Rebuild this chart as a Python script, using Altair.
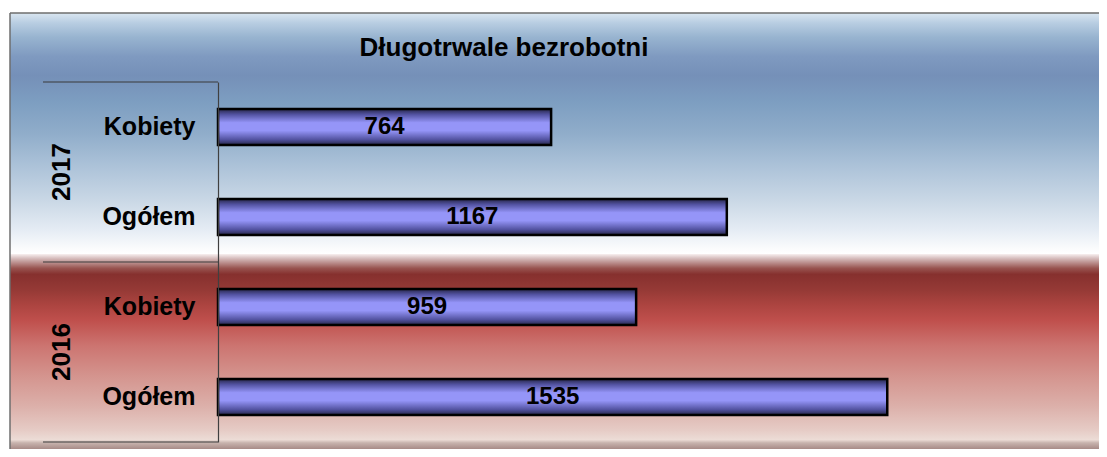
import altair as alt
import pandas as pd

# ---- data ----
years = ["2017", "2017", "2016", "2016"]
categories = ["Kobiety", "Ogółem", "Kobiety", "Ogółem"]
values = [764, 1167, 959, 1535]
title_text = "Długotrwale bezrobotni"
year_labels = ["2017", "2016"]

keys = [f"{y}|{c}" for y, c in zip(years, categories)]
df = pd.DataFrame({"key": keys, "year": years, "cat": categories, "value": values})
df_years = pd.DataFrame({"year": year_labels})
df_one = pd.DataFrame({"t": [title_text]})

FONT = "Liberation Sans"
W, H = 872, 360
PL, PT, PR, PB = 210, 74, 9, 7

# frame extents relative to plot origin
FX0, FX1 = -208, W + 20
FY0, FMID, FY1 = -69, 172, H + 15

blue_grad = {
    "gradient": "linear", "x1": 0, "y1": 0, "x2": 0, "y2": 1,
    "stops": [
        {"offset": 0.0, "color": "#dae6f1"},
        {"offset": 0.04, "color": "#b9cee2"},
        {"offset": 0.10, "color": "#98b4d0"},
        {"offset": 0.18, "color": "#7f9ac0"},
        {"offset": 0.26, "color": "#7590b8"},
        {"offset": 0.37, "color": "#7d9ec1"},
        {"offset": 0.50, "color": "#90adca"},
        {"offset": 0.62, "color": "#a9c0d7"},
        {"offset": 0.78, "color": "#cad8e6"},
        {"offset": 0.90, "color": "#e5ecf4"},
        {"offset": 0.98, "color": "#fbfcfd"},
        {"offset": 1.0, "color": "#ffffff"},
    ],
}
red_grad = {
    "gradient": "linear", "x1": 0, "y1": 0, "x2": 0, "y2": 1,
    "stops": [
        {"offset": 0.0, "color": "#f8f0f0"},
        {"offset": 0.02, "color": "#d8c0c0"},
        {"offset": 0.045, "color": "#b88a88"},
        {"offset": 0.07, "color": "#985450"},
        {"offset": 0.10, "color": "#86302e"},
        {"offset": 0.18, "color": "#963a36"},
        {"offset": 0.25, "color": "#ac4440"},
        {"offset": 0.33, "color": "#c0504d"},
        {"offset": 0.45, "color": "#cc7470"},
        {"offset": 0.60, "color": "#d4948e"},
        {"offset": 0.75, "color": "#dcb0aa"},
        {"offset": 0.87, "color": "#e6ccc6"},
        {"offset": 0.915, "color": "#ecdcd6"},
        {"offset": 0.93, "color": "#c8b4ae"},
        {"offset": 0.96, "color": "#a88c88"},
        {"offset": 1.0, "color": "#988080"},
    ],
}
bar_grad = {
    "gradient": "linear", "x1": 0, "y1": 0, "x2": 0, "y2": 1,
    "stops": [
        {"offset": 0.0, "color": "#262648"},
        {"offset": 0.15, "color": "#5252a0"},
        {"offset": 0.38, "color": "#9595f8"},
        {"offset": 0.6, "color": "#9595f8"},
        {"offset": 0.85, "color": "#5252a0"},
        {"offset": 1.0, "color": "#262648"},
    ],
}

one = alt.Chart(df_one)

bg_blue = one.mark_rect(fill=blue_grad, strokeWidth=0).encode(
    x=alt.value(FX0), x2=alt.value(FX1), y=alt.value(FY0), y2=alt.value(FMID))
bg_red = one.mark_rect(fill=red_grad, strokeWidth=0).encode(
    x=alt.value(FX0), x2=alt.value(FX1), y=alt.value(FMID), y2=alt.value(FY1))
frame_top = one.mark_rule(color="#6e6e6e", strokeWidth=1.5).encode(
    x=alt.value(FX0), x2=alt.value(FX1), y=alt.value(FY0))
frame_left = one.mark_rule(color="#6e6e6e", strokeWidth=1.5).encode(
    x=alt.value(FX0), y=alt.value(FY0), y2=alt.value(FY1))

title = one.mark_text(font=FONT, fontSize=26, fontWeight="bold", color="black",
                      align="center", baseline="middle").encode(
    x=alt.value(286), y=alt.value(-34), text="t:N")

year_scale = alt.Scale(domain=year_labels, paddingInner=0, paddingOuter=0)
yrs = alt.Chart(df_years)
group_rules_top = yrs.mark_rule(color="#3a3a3a", strokeWidth=1.2).encode(
    y=alt.Y("year:N", scale=year_scale, axis=None, bandPosition=0),
    x=alt.value(-175), x2=alt.value(0))
group_rule_bottom = yrs.transform_filter(alt.datum.year == year_labels[-1]).mark_rule(
    color="#3a3a3a", strokeWidth=1.2).encode(
    y=alt.Y("year:N", scale=year_scale, axis=None, bandPosition=1),
    x=alt.value(-175), x2=alt.value(0))
year_text = yrs.mark_text(font=FONT, fontSize=26, fontWeight="bold", color="black",
                          angle=270, align="center", baseline="middle").encode(
    y=alt.Y("year:N", scale=year_scale, axis=None),
    x=alt.value(-156), text="year:N")

base = alt.Chart(df)
y_enc = alt.Y("key:N", sort=keys,
              scale=alt.Scale(paddingInner=0.6, paddingOuter=0.3),
              axis=alt.Axis(title=None, ticks=False, grid=False, zindex=2,
                            labelExpr="split(datum.label, '|')[1]",
                            labelFont=FONT, labelFontSize=25, labelFontWeight="bold",
                            labelColor="black", labelPadding=23, labelLimit=300,
                            domain=True, domainColor="#404040", domainWidth=1.2))
x_enc = alt.X("value:Q", scale=alt.Scale(domain=[0, 2000]), axis=None)

main = base.mark_bar(fill=bar_grad, stroke="black", strokeWidth=2.5).encode(
    x=x_enc, y=y_enc)
labels = base.transform_calculate(mid="datum.value / 2").mark_text(
    font=FONT, fontSize=24, fontWeight="bold", color="black",
    align="center", baseline="middle").encode(
    x=alt.X("mid:Q", scale=alt.Scale(domain=[0, 2000]), axis=None),
    y=y_enc,
    text="value:Q")

chart = alt.layer(
    bg_blue, bg_red, frame_top, frame_left, title,
    group_rules_top, group_rule_bottom, year_text,
    alt.layer(main, labels)
).resolve_scale(y="independent").resolve_axis(y="independent").properties(
    width=W, height=H,
    padding={"left": PL, "top": PT, "right": PR, "bottom": PB},
    autosize="none",
).configure_view(stroke=None).configure(background="white")

chart.save("out.html", embed_options={"renderer": "svg", "actions": False})
